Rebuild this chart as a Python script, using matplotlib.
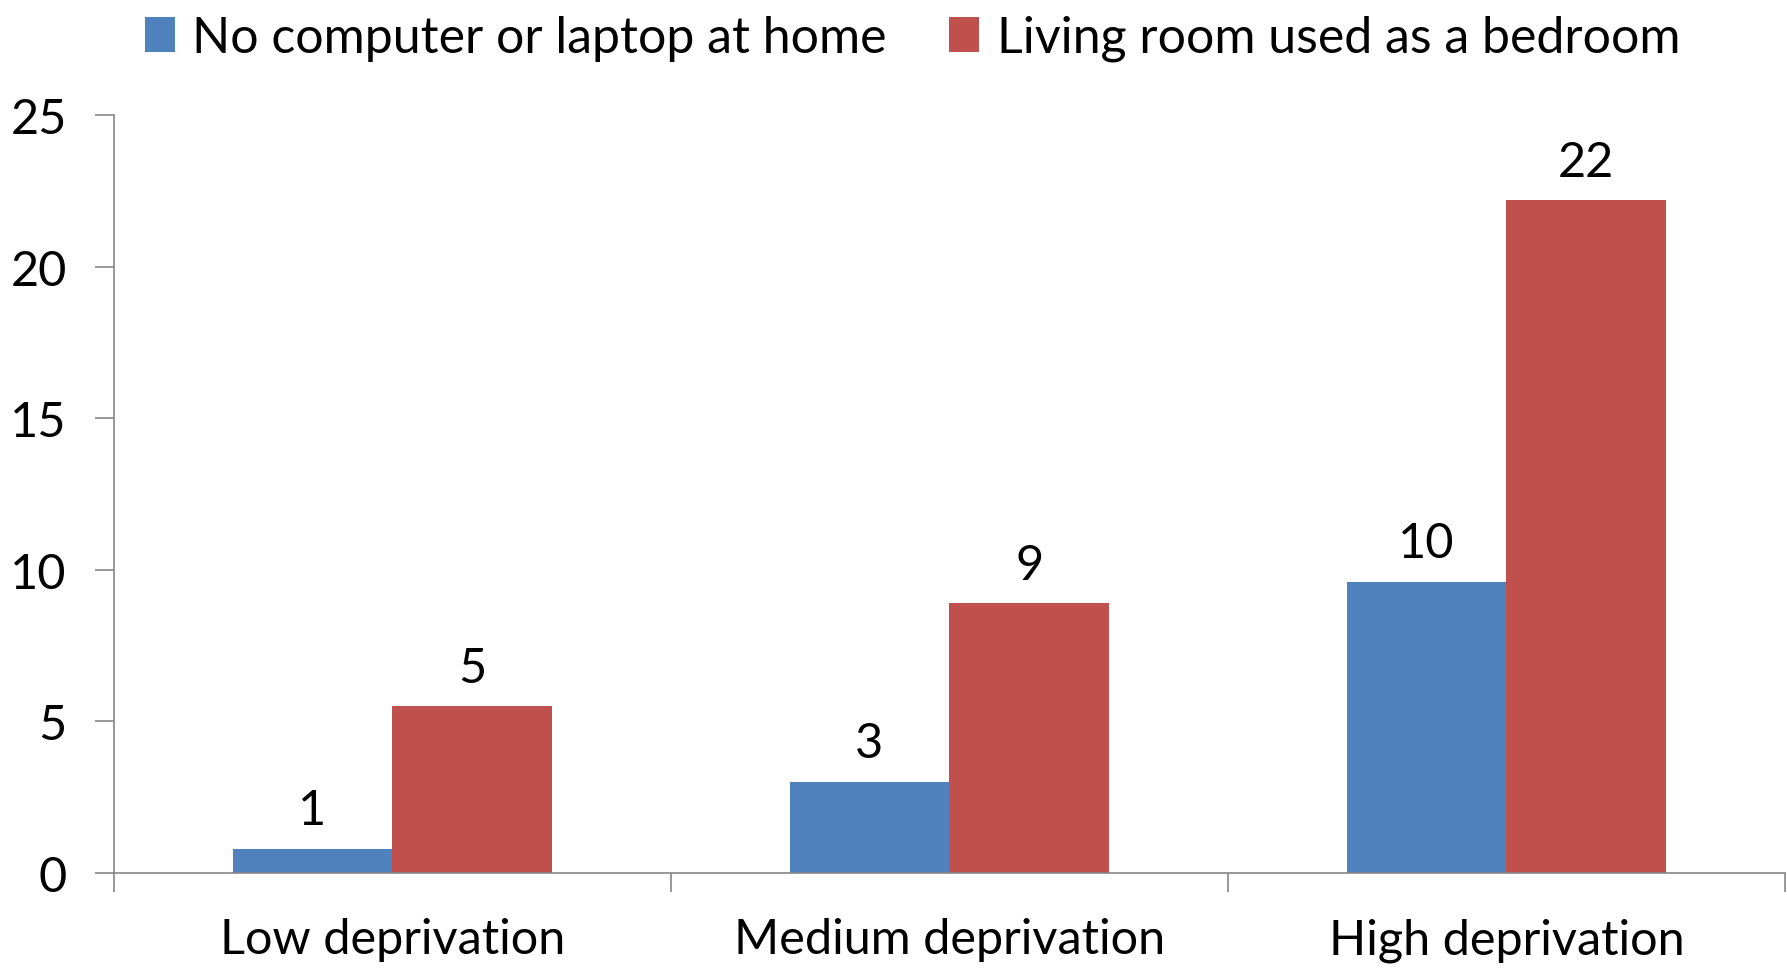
#!/usr/bin/env python3
"""
deprivation bar chart

grouped bars of household indicators by deprivation level
"""

import numpy as np
import matplotlib
matplotlib.use('Agg')
import matplotlib.pyplot as plt

categories = ['Low deprivation', 'Medium deprivation', 'High deprivation']
series_names = ['No computer or laptop at home', 'Living room used as a bedroom']
no_computer = [0.8, 3.0, 9.6]
living_room = [5.5, 8.9, 22.2]
no_computer_labels = ['1', '3', '10']
living_room_labels = ['5', '9', '22']
y_ticks = [0, 5, 10, 15, 20, 25]

blue = '#4F81BD'
red = '#C0504D'
axis_grey = '#868686'

plt.rcParams['font.family'] = ['Lato', 'DejaVu Sans']

fig = plt.figure(figsize=(17.87, 9.70), dpi=100)
ax = fig.add_axes([0.0638, 0.099, 0.935, 0.781])

x = np.arange(len(categories))
width = 0.287
bars_blue = ax.bar(x - width / 2, no_computer, width, color=blue, label=series_names[0])
bars_red = ax.bar(x + width / 2, living_room, width, color=red, label=series_names[1])

for bars, labels in ((bars_blue, no_computer_labels), (bars_red, living_room_labels)):
    for bar, text in zip(bars, labels):
        ax.annotate(text, (bar.get_x() + bar.get_width() / 2, bar.get_height()),
                    xytext=(0, 12), textcoords='offset points',
                    ha='center', va='bottom', fontsize=35)

ax.set_xlim(-0.5, len(categories) - 0.5)
ax.set_ylim(0, 25)
ax.set_yticks(y_ticks)
ax.tick_params(axis='y', labelsize=35, length=14, width=1.2, color=axis_grey, pad=20)

ax.set_xticks(x)
ax.set_xticklabels(categories, fontsize=35)
ax.tick_params(axis='x', length=0, pad=32)
ax.set_xticks(np.arange(len(categories) + 1) - 0.5, minor=True)
ax.tick_params(axis='x', which='minor', length=14, width=1.2, color=axis_grey)

for side in ('top', 'right'):
    ax.spines[side].set_visible(False)
for side in ('left', 'bottom'):
    ax.spines[side].set_color(axis_grey)
    ax.spines[side].set_linewidth(1.2)

fig.legend(loc='upper center', bbox_to_anchor=(0.5105, 1.03), ncol=2, frameon=False,
           fontsize=36, handlelength=0.6, handleheight=0.7, handletextpad=0.35,
           columnspacing=1.25)

fig.savefig('out.png', dpi=100)
